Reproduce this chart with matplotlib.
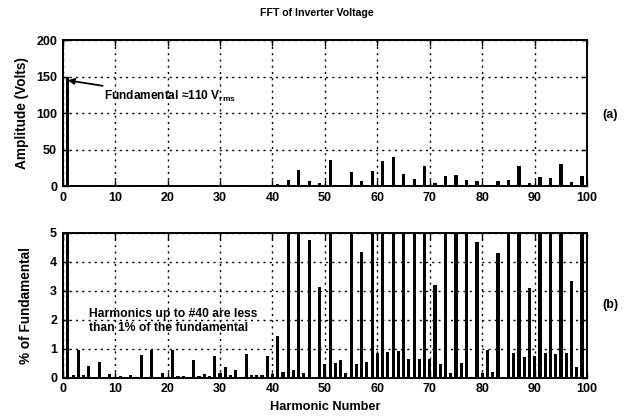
import numpy as np
import matplotlib
matplotlib.use("Agg")
import matplotlib.pyplot as plt

plt.rcParams["font.family"] = ["Liberation Sans", "DejaVu Sans"]
plt.rcParams["font.weight"] = "bold"
plt.rcParams["mathtext.default"] = "regular"

# Harmonic numbers and amplitude in percent of the fundamental
harmonics = np.arange(1, 101)
pct_of_fund = [
    100, 0.09, 0.96, 0.09, 0.40, 0.03, 0.55, 0.02, 0.12, 0.02,     # 1-10
    0.04, 0.02, 0.10, 0.02, 0.78, 0.02, 0.96, 0.03, 0.15, 0.02,    # 11-20
    0.96, 0.05, 0.05, 0.02, 0.62, 0.05, 0.12, 0.05, 0.76, 0.15,    # 21-30
    0.38, 0.08, 0.27, 0.03, 0.80, 0.10, 0.10, 0.10, 0.76, 0.13,    # 31-40
    1.45, 0.20, 5.33, 0.27, 14.7, 0.15, 4.77, 0.02, 3.12, 0.47,    # 41-50
    24.0, 0.50, 0.59, 0.17, 12.7, 0.47, 4.34, 0.55, 13.3, 0.85,    # 51-60
    23.3, 0.88, 26.7, 0.92, 10.7, 0.63, 6.0, 0.63, 18.7, 0.63,     # 61-70
    3.19, 0.47, 9.3, 0.17, 10.0, 0.49, 5.3, 0.02, 4.70, 0.17,      # 71-80
    0.96, 0.20, 4.29, 0.03, 5.3, 0.84, 18.7, 0.72, 3.10, 0.74,     # 81-90
    8.7, 0.86, 7.0, 0.80, 20.0, 0.84, 3.34, 0.35, 9.3, 0.0,        # 91-100
]
fundamental_peak = 150  # volts, peak of the fundamental bar

pct = np.array(pct_of_fund)
amp = pct * fundamental_peak / 100

fig = plt.figure(figsize=(6.26, 4.19), dpi=100)
ax1 = fig.add_axes([0.100, 0.556, 0.838, 0.348])
ax2 = fig.add_axes([0.100, 0.099, 0.838, 0.345])

for ax in (ax1, ax2):
    ax.set_xlim(0, 100)
    ax.set_xticks(np.arange(0, 101, 10))
    ax.grid(True, linestyle=(0, (1.5, 3)), color="black", linewidth=1.0)
    ax.tick_params(direction="in", top=True, right=True, labelsize=9,
                   length=4, width=1, pad=4)
    for s in ax.spines.values():
        s.set_linewidth(1.4)
    ax.set_axisbelow(True)

ax1.bar(harmonics, amp, width=0.6, color="black")
ax1.set_ylim(0, 200)
ax1.set_yticks([0, 50, 100, 150, 200])
ax1.set_ylabel("Amplitude (Volts)", fontsize=9.8, fontweight="bold", labelpad=5)
ax1.annotate("Fundamental \u2248110 V$_{rms}$", xy=(1.0, 145), xytext=(7.8, 123),
             fontsize=8.6, fontweight="bold", va="center",
             arrowprops=dict(arrowstyle="-|>", color="black", lw=1.3,
                             shrinkA=1, shrinkB=0, mutation_scale=9))

ax2.bar(harmonics, pct, width=0.6, color="black")
ax2.set_ylim(0, 5)
ax2.set_yticks([0, 1, 2, 3, 4, 5])
ax2.set_ylabel("% of Fundamental", fontsize=9.8, fontweight="bold", labelpad=12)
ax2.set_xlabel("Harmonic Number", fontsize=9.2, fontweight="bold", labelpad=4)
ax2.text(5.0, 1.95, "Harmonics up to #40 are less\nthan 1% of the fundamental",
         fontsize=8.7, fontweight="bold", va="center", ha="left", linespacing=1.15)

fig.text(0.506, 0.968, "FFT of Inverter Voltage", ha="center", va="center",
         fontsize=7.6, fontweight="bold")
fig.text(0.975, 0.725, "(a)", ha="center", va="center", fontsize=9, fontweight="bold")
fig.text(0.975, 0.272, "(b)", ha="center", va="center", fontsize=9, fontweight="bold")

fig.savefig("out.png", dpi=100, facecolor="white")
